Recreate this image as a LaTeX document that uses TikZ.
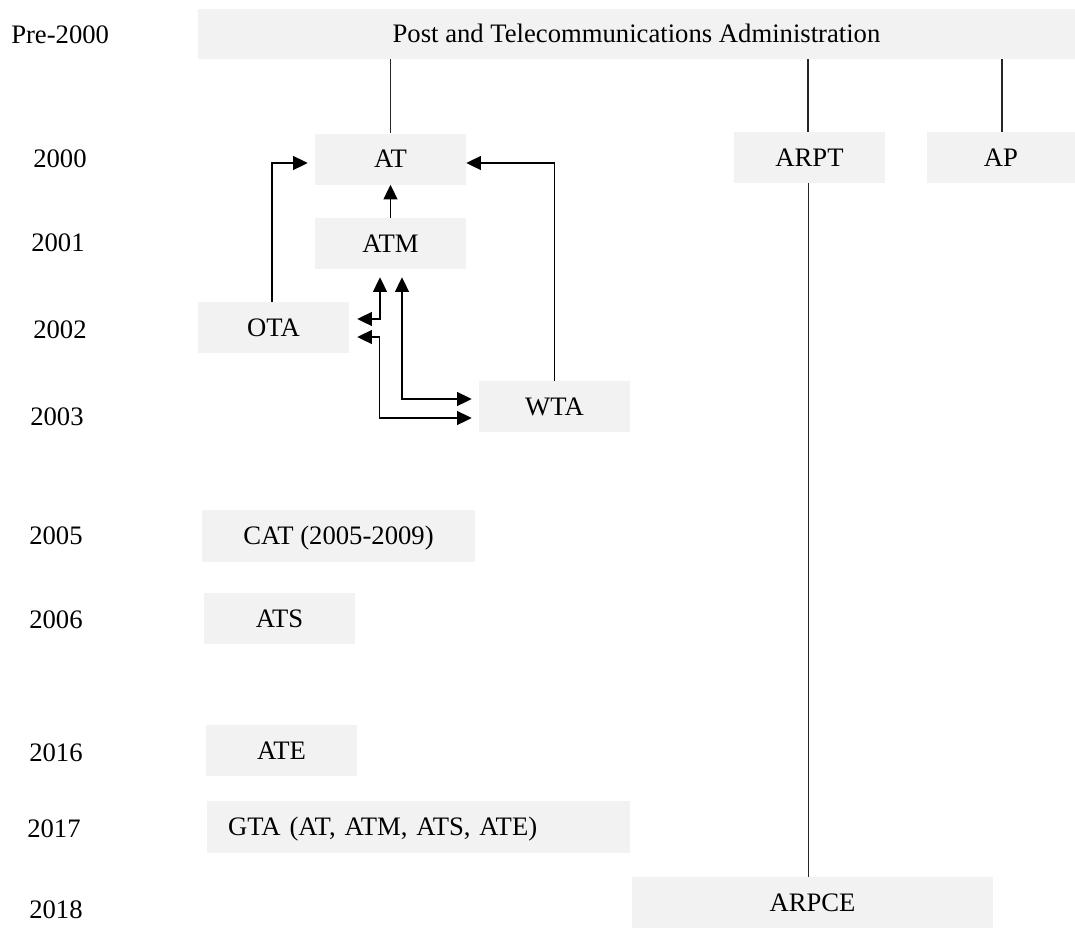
\documentclass[tikz,border=0pt]{standalone}
\usepackage{fontspec}
\setmainfont{Liberation Serif}
\usetikzlibrary{arrows.meta}
\definecolor{boxgray}{HTML}{F2F2F2}
\begin{document}
\begin{tikzpicture}[x=0.75pt,y=-0.75pt,
  font=\fontsize{20}{24}\selectfont,
  box/.style={fill=boxgray, draw=none, inner sep=0pt, text height=13.2pt, text depth=0pt,
    minimum height=51*0.75pt},
  bw/.style={minimum width=#1*0.75pt},
  bh/.style={minimum height=#1*0.75pt},
  yr/.style={anchor=base west, inner sep=0pt},
  ln/.style={draw=black!85, line width=0.9pt},
  tip/.tip={Triangle[length=11pt,width=10.5pt]},
  arr/.style={draw=black, line width=0.9pt, -tip},
  darr/.style={draw=black, line width=0.9pt, tip-tip},
]
\useasboundingbox (0,0) rectangle (1075,932);

% year labels
\node[yr] (ypre) at (11,43) {Pre-2000};
\node[yr] (y2000) at (33,167) {2000};
\node[yr] (y2001) at (31,251) {2001};
\node[yr] (y2002) at (33,338) {2002};
\node[yr] (y2003) at (30,425) {2003};
\node[yr] (y2005) at (29,544) {2005};
\node[yr] (y2006) at (29,628) {2006};
\node[yr] (y2016) at (29,761) {2016};
\node[yr] (y2017) at (27,837) {2017};
\node[yr] (y2018) at (29,918) {2018};

% boxes
\node[box, bw=877, bh=50] (top) at (636.5,34) {Post and Telecommunications Administration};
\node[box, bw=151] (AT) at (390.5,159) {AT};
\node[box, bw=151] (ARPT) at (809.5,157.5) {ARPT};
\node[box, bw=148] (AP) at (1001,157.5) {AP};
\node[box, bw=151] (ATM) at (390.5,243.5) {ATM};
\node[box, bw=151] (OTA) at (273.5,327.5) {OTA};
\node[box, bw=151] (WTA) at (554.5,406.5) {WTA};
\node[box, bw=273, bh=52] (CAT) at (338.5,535.5) {CAT (2005-2009)};
\node[box, bw=151] (ATS) at (279.5,618.5) {ATS};
\node[box, bw=151] (ATE) at (281.5,750.5) {ATE};
\node[box, bh=52, text width=381*0.75pt, align=left, inner xsep=21*0.75pt] (GTA) at (418.5,826.5) {GTA (AT, ATM, ATS, ATE)};
\node[box, bw=361] (ARPCE) at (812.5,902.5) {ARPCE};

% plain connectors
\draw[ln] (AT.north |- top.south) -- (AT.north);
\draw[ln] ([xshift=-1.5*0.75pt]ARPT.north |- top.south) -- ([xshift=-1.5*0.75pt]ARPT.north);
\draw[ln] ([xshift=1*0.75pt]AP.north |- top.south) -- ([xshift=1*0.75pt]AP.north);
\draw[ln] ([xshift=-1*0.75pt]ARPT.south) -- ([xshift=-1*0.75pt]ARPT.south |- ARPCE.north);

% arrows into AT
\draw[arr] (ATM.north) -- (AT.south);
\draw[arr] ([xshift=-1.5*0.75pt]OTA.north) |- ([shift={(-7,4)}]AT.west);
\draw[arr] (WTA.north) |- ([shift={(0,4)}]AT.east);

% double-headed arrows
\draw[darr] ([shift={(8,-8.5)}]OTA.east) -| ([shift={(-10.5,8)}]ATM.south);
\draw[darr] ([shift={(11.5,8)}]ATM.south) |- ([shift={(-7,-7.5)}]WTA.west);
\draw[darr] ([shift={(8,9.5)}]OTA.east) -- ++(22,0) |- ([shift={(-7,11.5)}]WTA.west);
\end{tikzpicture}
\end{document}
